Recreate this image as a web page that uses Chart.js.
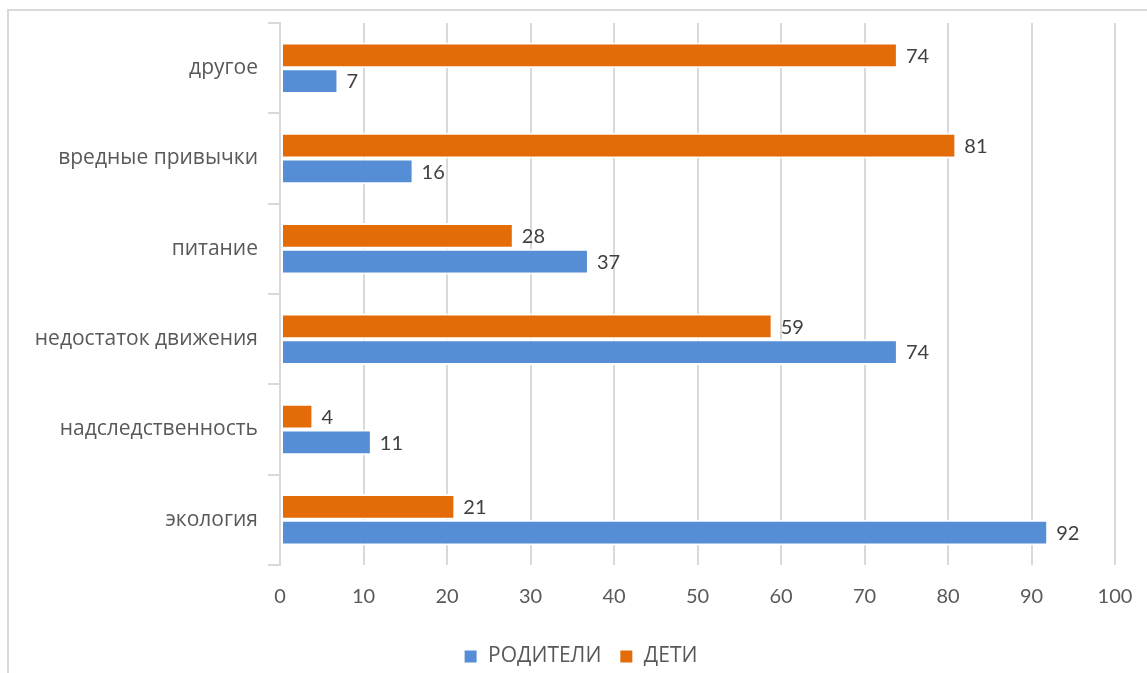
<!DOCTYPE html>
<html lang="ru">
<head>
<meta charset="utf-8">
<title>Причины ухудшения здоровья</title>
<script src="https://cdn.jsdelivr.net/npm/chart.js@4/dist/chart.umd.min.js"></script>
<style>
  html, body { margin: 0; padding: 0; background: #ffffff; }
  #frame {
    position: absolute; left: 7px; top: 9px;
    width: 1200px; height: 700px;
    border: 2px solid #d9d9d9; box-sizing: border-box;
  }
  #wrap { position: absolute; left: 0; top: 0; width: 1147px; height: 673px; }
</style>
</head>
<body>
<div id="frame"></div>
<div id="wrap"><canvas id="chart" width="1147" height="673"></canvas></div>
<script>
// Categories listed bottom-to-top (the y axis is reversed)
const categories = ['экология', 'надследственность', 'недостаток движения', 'питание', 'вредные привычки', 'другое'];
const parentsValues = [92, 11, 74, 37, 16, 7];
const childrenValues = [21, 4, 59, 28, 81, 74];
const seriesNames = ['РОДИТЕЛИ', 'ДЕТИ'];
const xTicks = [0, 10, 20, 30, 40, 50, 60, 70, 80, 90, 100];

const NUM_FONT = 'Lato, "Open Sans", sans-serif';
const TEXT_FONT = '"Open Sans", Lato, sans-serif';
const BLUE = '#558ED5';
const ORANGE = '#E36C09';
const GRID = '#d9d9d9';

// Writes each bar's value just past its end
const valueLabels = {
  id: 'valueLabels',
  afterDatasetsDraw(chart) {
    const ctx = chart.ctx;
    ctx.save();
    ctx.font = '20px ' + NUM_FONT;
    ctx.fillStyle = '#404040';
    ctx.textAlign = 'left';
    ctx.textBaseline = 'middle';
    chart.data.datasets.forEach((ds, i) => {
      const meta = chart.getDatasetMeta(i);
      meta.data.forEach((bar, j) => {
        ctx.fillText(String(ds.data[j]), bar.x + 8, bar.y + 1);
      });
    });
    ctx.restore();
  }
};

new Chart(document.getElementById('chart'), {
  type: 'bar',
  data: {
    labels: categories,
    // children first so they sit above the parents within each group
    datasets: [
      { label: seriesNames[1], data: childrenValues, backgroundColor: ORANGE },
      { label: seriesNames[0], data: parentsValues, backgroundColor: BLUE }
    ]
  },
  options: {
    indexAxis: 'y',
    responsive: false,
    animation: false,
    events: [],
    layout: { padding: { left: 14, top: 23, right: 0, bottom: -4 } },
    datasets: {
      bar: {
        categoryPercentage: 0.57,
        barPercentage: 1,
        borderColor: '#ffffff',
        borderWidth: 2,
        borderSkipped: false
      }
    },
    scales: {
      x: {
        min: 0,
        max: 100,
        afterBuildTicks(scale) { scale.ticks = xTicks.map(v => ({ value: v })); },
        afterFit(scale) {
          scale.height = 63;
          scale.paddingLeft = 0;
          scale.paddingRight = 32;
        },
        grid: { color: GRID, lineWidth: 2, drawTicks: false },
        border: { display: false },
        ticks: { color: '#595959', font: { family: NUM_FONT, size: 20 }, padding: 20 }
      },
      y: {
        reverse: true,
        afterFit(scale) { scale.width = 266; },
        grid: { color: GRID, lineWidth: 2, drawOnChartArea: false, drawTicks: true, tickLength: 12 },
        border: { display: true, color: GRID, width: 2 },
        ticks: { color: '#595959', font: { family: TEXT_FONT, size: 21 }, padding: 10 }
      }
    },
    plugins: {
      legend: {
        position: 'bottom',
        reverse: true,
        labels: {
          color: '#595959',
          font: { family: TEXT_FONT, size: 21 },
          boxWidth: 14,
          boxHeight: 14,
          padding: 18
        }
      },
      tooltip: { enabled: false }
    }
  },
  plugins: [valueLabels]
});
</script>
</body>
</html>
